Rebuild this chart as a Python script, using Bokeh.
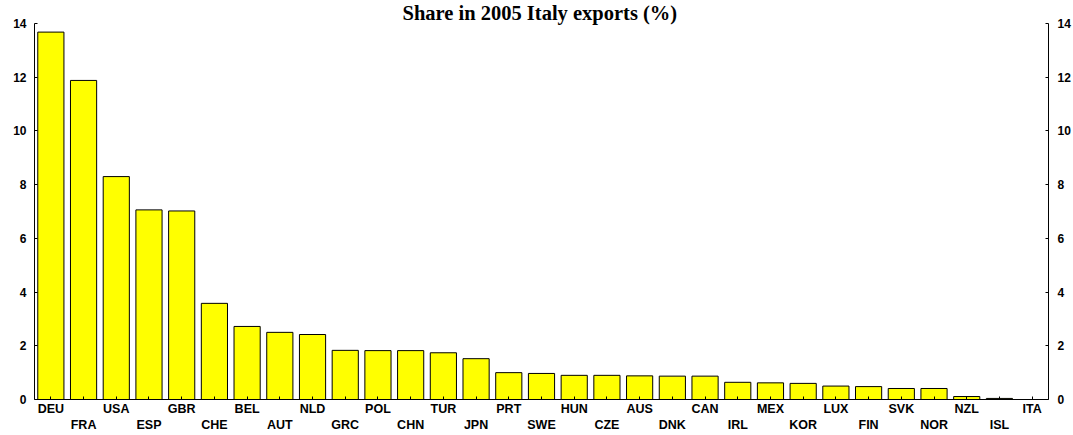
from bokeh.plotting import figure
from bokeh.models import Range1d, LinearAxis, FixedTicker, ColumnDataSource
from bokeh.embed import file_html
from bokeh.resources import INLINE

countries = ["DEU", "FRA", "USA", "ESP", "GBR", "CHE", "BEL", "AUT", "NLD", "GRC",
             "POL", "CHN", "TUR", "JPN", "PRT", "SWE", "HUN", "CZE", "AUS", "DNK",
             "CAN", "IRL", "MEX", "KOR", "LUX", "FIN", "SVK", "NOR", "NZL", "ISL", "ITA"]
shares = [13.68, 11.88, 8.30, 7.06, 7.02, 3.58, 2.72, 2.50, 2.42, 1.83,
          1.82, 1.82, 1.74, 1.52, 1.00, 0.97, 0.90, 0.90, 0.88, 0.87,
          0.87, 0.64, 0.62, 0.60, 0.50, 0.48, 0.41, 0.41, 0.11, 0.04, 0.0]
y_ticks = [0, 2, 4, 6, 8, 10, 12, 14]
title_text = "Share in 2005 Italy exports (%)"

idx = list(range(len(countries)))
src = ColumnDataSource(dict(x=idx, top=shares, name=countries))

p = figure(width=1073, height=435, output_backend="svg", toolbar_location=None,
           x_range=Range1d(-0.5, len(countries) - 0.5), y_range=Range1d(0, 14),
           x_axis_location=None, y_axis_location=None,
           min_border_top=23, min_border_left=34, min_border_right=24,
           min_border_bottom=0)
p.outline_line_color = None
p.background_fill_color = "white"
p.border_fill_color = "white"
for g in p.grid:
    g.grid_line_color = None

p.title.text = title_text
p.title.align = "left"
p.title.offset = 368
p.title.vertical_align = "top"
p.title.text_font = "Liberation Serif"
p.title.text_font_style = "bold"
p.title.text_font_size = "20.5px"
p.title.text_color = "black"
p.title.standoff = -4

p.vbar(x="x", top="top", bottom=0, width=0.8, source=src,
       fill_color="#FFFF00", line_color="black", line_width=1)

FONT = "Liberation Sans"


def style_axis(ax, standoff):
    ax.axis_line_color = "black"
    ax.axis_line_width = 1
    ax.major_tick_in = 3
    ax.major_tick_out = 0
    ax.major_tick_line_color = "black"
    ax.minor_tick_line_color = None
    ax.major_label_text_font = FONT
    ax.major_label_text_font_style = "bold"
    ax.major_label_text_font_size = "12px"
    ax.major_label_text_color = "black"
    ax.major_label_standoff = standoff


left = LinearAxis(ticker=FixedTicker(ticks=y_ticks))
style_axis(left, 8)
p.add_layout(left, "left")

right = LinearAxis(ticker=FixedTicker(ticks=y_ticks))
style_axis(right, 9)
p.add_layout(right, "right")

bottom = LinearAxis(ticker=FixedTicker(ticks=idx),
                    major_label_overrides={i: (c if i % 2 == 0 else "\n" + c)
                                           for i, c in enumerate(countries)})
style_axis(bottom, 2)
bottom.major_label_text_font_size = "12.5px"
p.add_layout(bottom, "below")

open("out.html", "w").write(file_html(p, INLINE))
